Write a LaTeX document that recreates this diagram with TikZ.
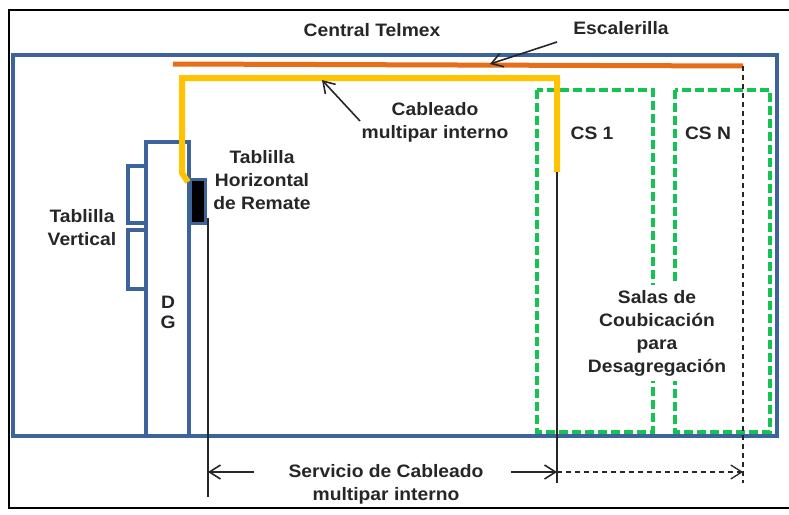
\documentclass[tikz,border=0pt]{standalone}
\usepackage{fontspec}
\setmainfont{Liberation Sans}[FakeStretch=1.07]
\usetikzlibrary{arrows.meta}
\definecolor{wallblue}{RGB}{60,100,155}
\definecolor{escorange}{RGB}{230,110,25}
\definecolor{cableyellow}{RGB}{255,195,0}
\definecolor{csgreen}{RGB}{20,195,80}
\begin{document}
\begin{tikzpicture}[x=1pt,y=-1pt,
  lbl/.style={font=\fontsize{18}{23}\selectfont\bfseries, align=center, inner sep=0pt, text=black!85},
  wall/.style={draw=wallblue, line width=4pt},
  panel/.style={draw=wallblue, line width=3.2pt, fill=white},
  csroom/.style={draw=csgreen, line width=3.8pt, dash pattern=on 9pt off 4pt},
  pointer/.style={draw=black!85, line width=1.6pt, -{Straight Barb[length=11pt,width=14pt,line width=1.6pt]}},
  dimline/.style={draw=black!85, line width=1.3pt},
  dimdash/.style={draw=black!85, line width=1.3pt, dash pattern=on 5pt off 4pt}]
\useasboundingbox (0,0) rectangle (789,514);
% outer frame
\draw[black, line width=2pt] (790,10) -- (9,10) -- (9,508) -- (790,508);
% building
\draw[wall] (13,55) rectangle (777,436);
% DG and tablillas
\draw[panel] (146,142) rectangle (189,436);
\draw[panel] (128,166) rectangle (146,223);
\draw[panel] (128,230) rectangle (146,289);
\draw[draw=wallblue, line width=3pt, fill=black] (190,179) rectangle (205,223);
% CS rooms
\draw[csroom] (537,90) rectangle (653,432);
\draw[csroom] (675,90) rectangle (770,432);
% escalerilla and cable
\draw[escorange, line width=5pt] (173,64) -- (743,66);
\draw[cableyellow, line width=6pt] (188,182) -- (182,173) -- (182,78) -- (557,78) -- (557,172);
% coordinates
\coordinate (tabEnd) at (208,218);
\coordinate (tabFoot) at (208,497);
\coordinate (csTop) at (557,172);
\coordinate (csFoot) at (557,483);
\coordinate (escEnd) at (743,66);
\coordinate (escFoot) at (743,483);
\coordinate (dimL) at (208,472);
\coordinate (dimM) at (557,472);
\coordinate (dimR) at (743,472);
\coordinate (onEsc) at (490,64);
\coordinate (onCable) at (322,80);
% vertical reference lines
\draw[dimline] (tabEnd) -- (tabFoot);
\draw[dimline] (csTop) -- (csFoot);
\draw[dimdash] (escEnd) -- (escFoot);
% labels
\node[lbl] (central) at (372,30) {Central Telmex};
\node[lbl] (esc) at (621,28) {Escalerilla};
\node[lbl] (cab) at (435,122) {Cableado\\multipar interno};
\node[lbl] (thr) at (262,180) {Tablilla\\Horizontal\\de Remate};
\node[lbl] (tv) at (82,228) {Tablilla\\Vertical};
\node[lbl, font=\fontsize{18}{20}\selectfont\bfseries] (dg) at (168,312) {D\\G};
\node[lbl] (cs1) at (592,133) {CS 1};
\node[lbl] (csn) at (708,133) {CS N};
\node[lbl, fill=white, inner xsep=6pt, inner ysep=5pt] (salas) at (657,333) {Salas de\\Coubicación\\para\\Desagregación};
\node[lbl, fill=white, inner xsep=4pt] (serv) at (386,484) {Servicio de Cableado\\multipar interno};
% pointers
\coordinate (escStart) at (557,42);
\coordinate (cabStart) at (360,121);
\draw[pointer] (escStart) -- (onEsc);
\draw[pointer] (cabStart) -- (onCable);
% dimension arrows
\coordinate (servL) at (254,472);
\coordinate (servR) at (511,472);
\draw[pointer, line width=1.3pt] (servL) -- (dimL);
\draw[pointer, line width=1.3pt] (servR) -- (dimM);
\draw[dimdash, -{Straight Barb[length=11pt,width=14pt,line width=1.3pt]}] (dimM) -- (dimR);
\end{tikzpicture}
\end{document}
